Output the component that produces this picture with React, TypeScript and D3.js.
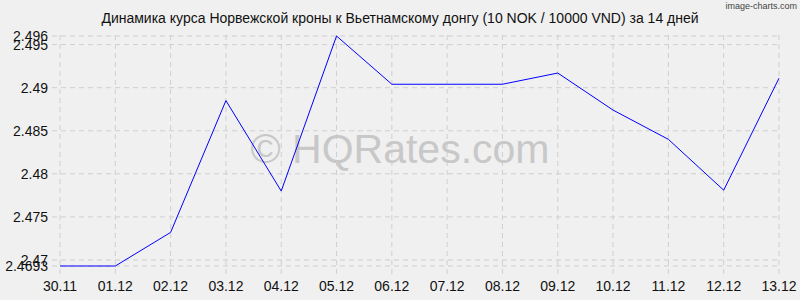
import React from "react";
import * as d3 from "d3";

const categories = ["30.11", "01.12", "02.12", "03.12", "04.12", "05.12", "06.12", "07.12", "08.12", "09.12", "10.12", "11.12", "12.12", "13.12"];
const values = [2.4693, 2.4693, 2.4732, 2.4885, 2.478, 2.496, 2.4904, 2.4904, 2.4904, 2.4917, 2.4874, 2.484, 2.4781, 2.4911];
const yTicks = [2.4693, 2.47, 2.475, 2.48, 2.485, 2.49, 2.495, 2.496];
const yTickLabels = ["2.4693", "2.47", "2.475", "2.48", "2.485", "2.49", "2.495", "2.496"];
const title = "Динамика курса Норвежской кроны к Вьетнамскому донгу (10 NOK / 10000 VND) за 14 дней";

export default function App() {
  const W = 800, H = 300;
  const left = 60, right = 779, top = 36, bottom = 266;
  const x = d3.scalePoint<string>().domain(categories).range([left, right]);
  const y = d3.scaleLinear().domain([2.4693, 2.496]).range([bottom, top]);
  const line = d3.line<number>().x((_, i) => x(categories[i]) as number).y((d) => y(d));
  const font = "'Liberation Sans', Arial, sans-serif";
  return (
    <svg width={W} height={H} style={{ position: "absolute", left: 0, top: 0, display: "block" }}>
      <rect x={0} y={0} width={W} height={H} fill="#f0f0f0" />
      {categories.map((c) => (
        <line key={c} x1={x(c)} x2={x(c)} y1={top - 1} y2={bottom + 9} stroke="#cfcfcf" strokeDasharray="5,4" />
      ))}
      {yTicks.map((t) => (
        <line key={t} x1={left - 8} x2={right} y1={y(t)} y2={y(t)} stroke="#cfcfcf" strokeDasharray="5,4" />
      ))}
      <text x={400} y={163} textAnchor="middle" fontFamily={font} fontSize={41} fill="#c8c8c8">© HQRates.com</text>
      <path d={line(values) || ""} fill="none" stroke="#0000ff" strokeWidth={1} />
      {yTicks.map((t, i) => (
        <text key={t} x={48} y={y(t) + 5} textAnchor="end" fontFamily={font} fontSize={14} fill="#111">{yTickLabels[i]}</text>
      ))}
      {categories.map((c) => (
        <text key={c} x={x(c)} y={291} textAnchor="middle" fontFamily={font} fontSize={14} fill="#111">{c}</text>
      ))}
      <text x={400} y={23} textAnchor="middle" fontFamily={font} fontSize={14} fill="#111">{title}</text>
      <text x={797} y={9} textAnchor="end" fontFamily={font} fontSize={9} fill="#444">image-charts.com</text>
    </svg>
  );
}
